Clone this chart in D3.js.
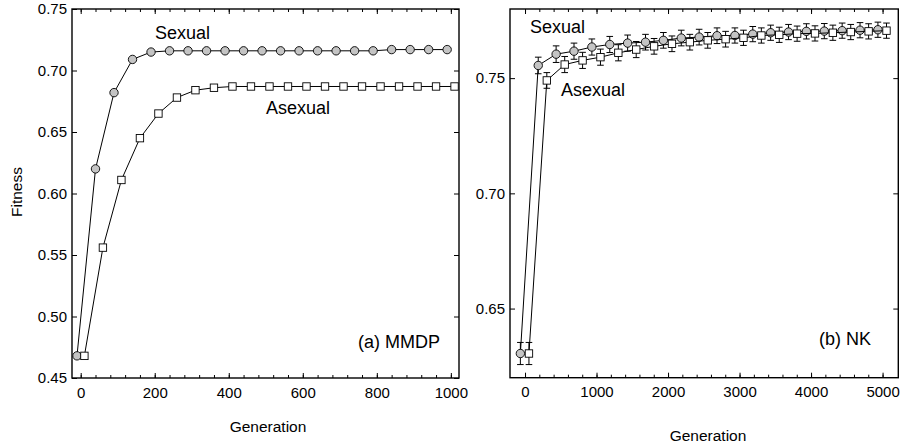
<!DOCTYPE html>
<html>
<head>
<meta charset="utf-8">
<script src="https://cdn.jsdelivr.net/npm/d3@7"></script>
<style>
  body { margin: 0; background: #fff; }
  svg { display: block; font-family: "Liberation Sans", Arial, Helvetica, sans-serif; }
  .tick line { stroke: #000; stroke-width: 1; }
  .tick text { fill: #000; }
</style>
</head>
<body>
<svg id="chart" width="903" height="445"></svg>
<script>
// Panel (a) MMDP : generations and mean fitness
const genA = [0, 50, 100, 150, 200, 250, 300, 350, 400, 450, 500, 550, 600, 650, 700, 750, 800, 850, 900, 950, 1000];
const sexA = [0.468, 0.620, 0.682, 0.709, 0.715, 0.716, 0.716, 0.716, 0.716, 0.716, 0.716, 0.716, 0.716, 0.716, 0.716, 0.716, 0.716, 0.717, 0.717, 0.717, 0.717];
const asexA = [0.468, 0.556, 0.611, 0.645, 0.665, 0.678, 0.684, 0.686, 0.687, 0.687, 0.687, 0.687, 0.687, 0.687, 0.687, 0.687, 0.687, 0.687, 0.687, 0.687, 0.687];
const xTicksA = [0, 200, 400, 600, 800, 1000];
const yTicksA = [0.45, 0.50, 0.55, 0.60, 0.65, 0.70, 0.75];

// Panel (b) NK : generations, mean fitness and error
const genB = [0, 250, 500, 750, 1000, 1250, 1500, 1750, 2000, 2250, 2500, 2750, 3000, 3250, 3500, 3750, 4000, 4250, 4500, 4750, 5000];
const sexB = [0.6305, 0.7555, 0.7604, 0.7617, 0.7635, 0.7646, 0.7652, 0.7656, 0.7664, 0.7674, 0.7678, 0.7684, 0.7685, 0.7691, 0.7697, 0.7700, 0.7703, 0.7704, 0.7706, 0.7708, 0.7710];
const asexB = [0.6305, 0.7490, 0.7559, 0.7577, 0.7591, 0.7610, 0.7624, 0.7638, 0.7649, 0.7656, 0.7664, 0.7669, 0.7675, 0.7685, 0.7688, 0.7693, 0.7694, 0.7697, 0.7700, 0.7703, 0.7706];
const sexBErr = [0.0048, 0.0036, 0.0036, 0.0035, 0.0035, 0.0035, 0.0035, 0.0034, 0.0034, 0.0034, 0.0034, 0.0034, 0.0033, 0.0033, 0.0033, 0.0033, 0.0033, 0.0033, 0.0033, 0.0033, 0.0033];
const asexBErr = [0.0048, 0.0034, 0.0035, 0.0035, 0.0035, 0.0035, 0.0035, 0.0034, 0.0034, 0.0034, 0.0034, 0.0034, 0.0033, 0.0033, 0.0033, 0.0033, 0.0033, 0.0033, 0.0033, 0.0033, 0.0033];
const xTicksB = [0, 1000, 2000, 3000, 4000, 5000];
const yTicksB = [0.65, 0.70, 0.75];

const svg = d3.select("#chart");
const GREY = "#c4c4c4";

// Panel A
const xA = d3.scaleLinear().domain([-23.5, 1022]).range([72, 459]);
const yA = d3.scaleLinear().domain([0.45, 0.75]).range([378, 9]);
const gA = svg.append("g");
drawAxes(gA, xA, yA, xTicksA, d3.range(0, 1001, 40), yTicksA);
drawSeries(gA, genA.map((g, i) => ({ x: g - 10, y: sexA[i] })), xA, yA, "circle", null);
drawSeries(gA, genA.map((g, i) => ({ x: g + 10, y: asexA[i] })), xA, yA, "square", null);
label(gA, 155, 39, "Sexual", 18);
label(gA, 266, 114, "Asexual", 18);
label(gA, 358, 348, "(a) MMDP", 18);
label(gA, 268, 432, "Generation", 15.5, "middle");
gA.append("text")
  .attr("transform", "translate(22,192) rotate(-90)")
  .attr("text-anchor", "middle")
  .style("font-size", "15.5px")
  .text("Fitness");

// Panel B
const xB = d3.scaleLinear().domain([-210, 5220]).range([510, 898.3]);
const yB = d3.scaleLinear().domain([0.62, 0.78]).range([377.7, 9]);
const gB = svg.append("g");
drawAxes(gB, xB, yB, xTicksB, d3.range(0, 5001, 200), yTicksB);
drawSeries(gB, genB.map((g, i) => ({ x: g - 65, y: sexB[i], e: sexBErr[i] })), xB, yB, "circle", true);
drawSeries(gB, genB.map((g, i) => ({ x: g + 55, y: asexB[i], e: asexBErr[i] })), xB, yB, "square", true);
label(gB, 530, 33, "Sexual", 18);
label(gB, 561, 96, "Asexual", 18);
label(gB, 819, 345, "(b) NK", 18);
label(gB, 708, 441, "Generation", 15.5, "middle");

function label(g, x, y, txt, size, anchor) {
  g.append("text")
    .attr("x", x)
    .attr("y", y)
    .attr("text-anchor", anchor || "start")
    .style("font-size", size + "px")
    .text(txt);
}

function drawAxes(g, x, y, xTicks, xMinor, yTicks) {
  const [x0, x1] = x.range();
  const [y0, y1] = y.range();

  // bottom axis with labels, ticks pointing inward
  g.append("g")
    .attr("transform", `translate(0,${y0})`)
    .call(d3.axisBottom(x).tickValues(xMinor).tickSize(-3).tickFormat(""))
    .call((a) => a.select(".domain").remove());
  g.append("g")
    .attr("transform", `translate(0,${y0})`)
    .call(d3.axisBottom(x).tickValues(xTicks).tickSize(-5).tickPadding(9).tickFormat(d3.format("d")))
    .call((a) => a.select(".domain").remove())
    .selectAll("text").style("font-size", "15px");

  // top axis, no labels
  g.append("g")
    .attr("transform", `translate(0,${y1})`)
    .call(d3.axisTop(x).tickValues(xMinor).tickSize(-3).tickFormat(""))
    .call((a) => a.select(".domain").remove());
  g.append("g")
    .attr("transform", `translate(0,${y1})`)
    .call(d3.axisTop(x).tickValues(xTicks).tickSize(-5).tickFormat(""))
    .call((a) => a.select(".domain").remove());

  // left axis with labels
  g.append("g")
    .attr("transform", `translate(${x0},0)`)
    .call(d3.axisLeft(y).tickValues(yTicks).tickSize(-5).tickPadding(5).tickFormat(d3.format(".2f")))
    .call((a) => a.select(".domain").remove())
    .selectAll("text").style("font-size", "15px");

  // right axis
  g.append("g")
    .attr("transform", `translate(${x1},0)`)
    .call(d3.axisRight(y).tickValues(yTicks).tickSize(-5).tickFormat(""))
    .call((a) => a.select(".domain").remove());

  // frame
  g.append("rect")
    .attr("x", x0)
    .attr("y", y1)
    .attr("width", x1 - x0)
    .attr("height", y0 - y1)
    .attr("fill", "none")
    .attr("stroke", "#000")
    .attr("stroke-width", 1.4);
}

function drawSeries(g, pts, x, y, shape, withErr) {
  const line = d3.line().x((d) => x(d.x)).y((d) => y(d.y));
  g.append("path")
    .datum(pts)
    .attr("d", line)
    .attr("fill", "none")
    .attr("stroke", "#000")
    .attr("stroke-width", 1);

  if (withErr) {
    const eb = g.append("g").attr("stroke", "#000").attr("stroke-width", 1);
    pts.forEach((d) => {
      const cx = x(d.x);
      const top = y(d.y + d.e);
      const bot = y(d.y - d.e);
      eb.append("line").attr("x1", cx).attr("x2", cx).attr("y1", top).attr("y2", bot);
      eb.append("line").attr("x1", cx - 3.3).attr("x2", cx + 3.3).attr("y1", top).attr("y2", top);
      eb.append("line").attr("x1", cx - 3.3).attr("x2", cx + 3.3).attr("y1", bot).attr("y2", bot);
    });
  }

  if (shape === "circle") {
    g.selectAll(null)
      .data(pts)
      .enter()
      .append("circle")
      .attr("cx", (d) => x(d.x))
      .attr("cy", (d) => y(d.y))
      .attr("r", 4.2)
      .attr("fill", GREY)
      .attr("stroke", "#000")
      .attr("stroke-width", 0.9);
  } else {
    const s = 7.4;
    g.selectAll(null)
      .data(pts)
      .enter()
      .append("rect")
      .attr("x", (d) => x(d.x) - s / 2)
      .attr("y", (d) => y(d.y) - s / 2)
      .attr("width", s)
      .attr("height", s)
      .attr("fill", "#fff")
      .attr("stroke", "#000")
      .attr("stroke-width", 0.9);
  }
}
</script>
</body>
</html>
